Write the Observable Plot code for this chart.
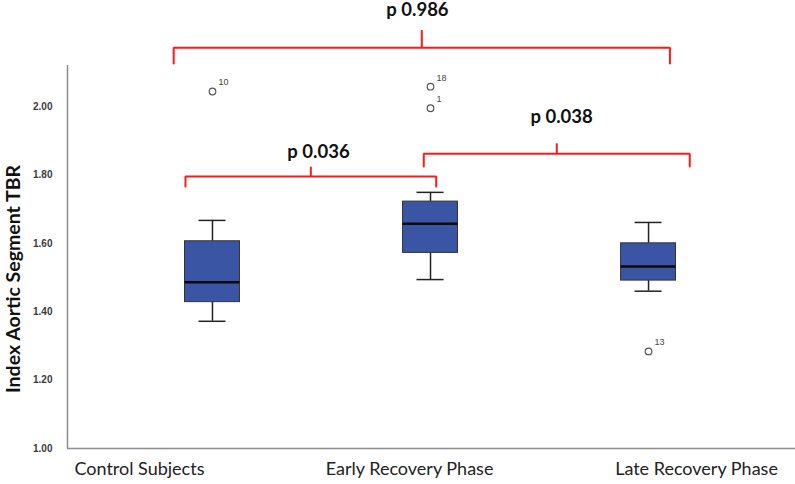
<!DOCTYPE html>
<html>
<head>
<meta charset="utf-8">
<script src="https://cdn.jsdelivr.net/npm/d3@7"></script>
<script src="https://cdn.jsdelivr.net/npm/@observablehq/plot@0.6"></script>
<style>
  body { margin: 0; background: #fff; }
  #chart svg [aria-label^="y-axis"] text { font-weight: bold; fill: #3a3a3a; }
</style>
</head>
<body>
<div id="chart"></div>
<script>
// ---- data ----
const categories = ["Control Subjects", "Early Recovery Phase", "Late Recovery Phase"];
const whiskerLow  = [1.372, 1.494, 1.460];
const q1          = [1.428, 1.572, 1.491];
const median      = [1.486, 1.657, 1.532];
const q3          = [1.606, 1.722, 1.600];
const whiskerHigh = [1.667, 1.749, 1.661];
const outlierGroup = [0, 1, 1, 2];
const outlierValue = [2.044, 2.058, 1.995, 1.284];
const outlierCase  = ["10", "18", "1", "13"];
const compareFrom = [0, 0, 1];
const compareTo   = [2, 1, 2];
const pValues     = ["p 0.986", "p 0.036", "p 0.038"];
const yTicks      = [1.0, 1.2, 1.4, 1.6, 1.8, 2.0];

// ---- layout (geometry of the figure, not data) ----
const layout = {
  xDomain: [-0.665, 2.674],
  yDomain: [1, 2.12],
  boxHalf: 0.126,
  capHalf: 0.062,
  labelX: [-0.335, 0.904, 2.220],
  bracket: [
    {dx1: -0.178, dx2: 0.098, y: 2.1716, yEnd: 2.1257, yTop: 2.2222, xText: 0.940, yText: 2.2807},
    {dx1: -0.124, dx2: 0.026, y: 1.7953, yEnd: 1.7660, yTop: 1.8225, xText: 0.486, yText: 1.8664},
    {dx1: -0.031, dx2: 0.189, y: 1.8617, yEnd: 1.8246, yTop: 1.8910, xText: 1.601, yText: 1.9678}
  ]
};

const idx = categories.map((_, i) => i);
const outIdx = outlierValue.map((_, i) => i);
const cmpIdx = pValues.map((_, i) => i);

const bracketPts = [];
cmpIdx.forEach(i => {
  const b = layout.bracket[i];
  const xa = compareFrom[i] + b.dx1, xb = compareTo[i] + b.dx2;
  bracketPts.push({k: i, x: xa, y: b.yEnd}, {k: i, x: xa, y: b.y}, {k: i, x: xb, y: b.y}, {k: i, x: xb, y: b.yEnd});
});
const bracketMid = i => (compareFrom[i] + layout.bracket[i].dx1 + compareTo[i] + layout.bracket[i].dx2) / 2;

const chart = Plot.plot({
  width: 795,
  height: 484,
  marginLeft: 67,
  marginRight: 0,
  marginTop: 65,
  marginBottom: 36,
  style: {fontFamily: "'Liberation Sans', Arial, sans-serif", fontSize: "10px", background: "white", overflow: "visible"},
  x: {type: "linear", domain: layout.xDomain, axis: null},
  y: {domain: layout.yDomain, ticks: yTicks, tickFormat: d3.format(".2f"), tickSize: 0, tickPadding: 15, label: null},
  marks: [
    // axis lines
    Plot.ruleY([layout.yDomain[0]], {stroke: "#8c8c8c", strokeWidth: 1.5}),
    Plot.ruleX([layout.xDomain[0]], {stroke: "#8c8c8c", strokeWidth: 1.5}),
    // whiskers
    Plot.ruleX(idx, {x: d => d, y1: d => whiskerLow[d], y2: d => q1[d], stroke: "#222", strokeWidth: 1.5}),
    Plot.ruleX(idx, {x: d => d, y1: d => q3[d], y2: d => whiskerHigh[d], stroke: "#222", strokeWidth: 1.5}),
    Plot.ruleY(idx, {y: d => whiskerLow[d], x1: d => d - layout.capHalf, x2: d => d + layout.capHalf, stroke: "#222", strokeWidth: 1.5}),
    Plot.ruleY(idx, {y: d => whiskerHigh[d], x1: d => d - layout.capHalf, x2: d => d + layout.capHalf, stroke: "#222", strokeWidth: 1.5}),
    // boxes
    Plot.rect(idx, {x1: d => d - layout.boxHalf, x2: d => d + layout.boxHalf, y1: d => q1[d], y2: d => q3[d], fill: "#3b55a5", stroke: "#333", strokeWidth: 1}),
    // medians
    Plot.ruleY(idx, {y: d => median[d], x1: d => d - layout.boxHalf, x2: d => d + layout.boxHalf, stroke: "#0a0a0a", strokeWidth: 2.5}),
    // outliers
    Plot.dot(outIdx, {x: i => outlierGroup[i], y: i => outlierValue[i], r: 3.3, stroke: "#555", strokeWidth: 1.2, fill: "white"}),
    Plot.text(outIdx, {x: i => outlierGroup[i], y: i => outlierValue[i], text: i => outlierCase[i], dx: 6, dy: -9, textAnchor: "start", fontSize: 9, fill: "#444"}),
    // comparison brackets
    Plot.line(bracketPts, {x: "x", y: "y", z: "k", stroke: "#ff1a1a", strokeWidth: 2, strokeLinejoin: "miter"}),
    Plot.ruleX(cmpIdx, {x: i => bracketMid(i), y1: i => layout.bracket[i].y, y2: i => layout.bracket[i].yTop, stroke: "#ff1a1a", strokeWidth: 2}),
    Plot.text(cmpIdx, {x: i => layout.bracket[i].xText, y: i => layout.bracket[i].yText, text: i => pValues[i], fontFamily: "Lato, 'Open Sans', sans-serif", fontWeight: "bold", fontSize: 18.5, fill: "#111"}),
    // category labels
    Plot.text(categories, {x: (d, i) => layout.labelX[i], frameAnchor: "bottom", dy: 26, text: d => d, fontFamily: "Lato, 'Open Sans', sans-serif", fontSize: 18, fill: "#222"}),
    // y axis title
    Plot.text(["Index Aortic Segment TBR"], {frameAnchor: "left", textAnchor: "middle", rotate: -90, dx: -54, dy: 22, text: d => d, fontFamily: "Lato, 'Open Sans', sans-serif", fontWeight: "bold", fontSize: 19.5, fill: "#111"})
  ]
});
document.getElementById("chart").appendChild(chart);
</script>
</body>
</html>
